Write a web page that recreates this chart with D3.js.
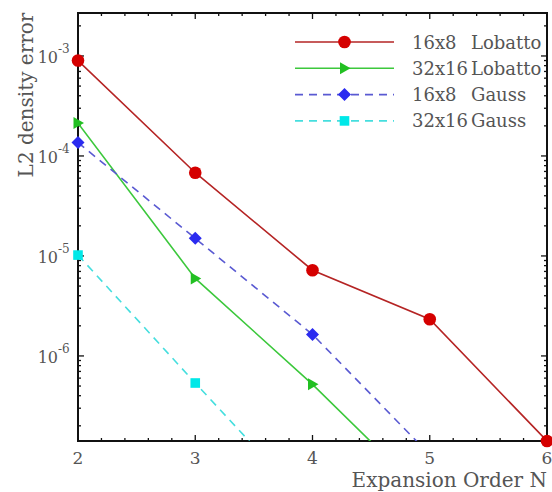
<!DOCTYPE html>
<html>
<head>
<meta charset="utf-8">
<script src="https://cdn.jsdelivr.net/npm/d3@7"></script>
<style>
  html, body { margin: 0; padding: 0; background: #fff; }
  svg { display: block; }
  text { font-family: "DejaVu Serif", "Liberation Serif", serif; fill: #555; }
</style>
</head>
<body>
<svg id="chart" width="552" height="492"></svg>
<script>
// Expansion order on the x axis
const orders = [2, 3, 4, 5, 6];

// L2 density error per resolution / quadrature
const lobatto16x8  = [9.0e-4, 6.8e-5, 7.2e-6, 2.33e-6, 1.41e-7];
const lobatto32x16 = [2.13e-4, 5.96e-6, 5.2e-7, 3.66e-8];
const gauss16x8    = [1.36e-4, 1.5e-5, 1.64e-6, 1.03e-7];
const gauss32x16   = [1.02e-5, 5.36e-7, 2.93e-8];

const seriesNames  = ["16x8", "32x16", "16x8", "32x16"];
const seriesRules  = ["Lobatto", "Lobatto", "Gauss", "Gauss"];

const xTicks = [2, 3, 4, 5, 6];
const yExponents = [-3, -4, -5, -6];

const series = [
  { values: lobatto16x8,  line: "#b52424", fill: "#d50000", dash: null,  shape: "circle" },
  { values: lobatto32x16, line: "#3cc83c", fill: "#22c022", dash: null,  shape: "triangle" },
  { values: gauss16x8,    line: "#5a5ad2", fill: "#2b2bf0", dash: "8,6", shape: "diamond" },
  { values: gauss32x16,   line: "#45dede", fill: "#00e8e8", dash: "8,6", shape: "square" }
].map((s, i) => ({ ...s, name: seriesNames[i], rule: seriesRules[i],
  points: s.values.map((v, j) => ({ x: orders[j], y: v })) }));

const svg = d3.select("#chart");
const margin = { left: 78, right: 5, top: 13, bottom: 51 };
const W = 552, H = 492;

const x = d3.scaleLinear().domain([2, 6]).range([margin.left, W - margin.right]);
const y = d3.scaleLog().domain([1.41e-7, 2.69e-3]).range([H - margin.bottom, margin.top]);

const x0 = x.range()[0], x1 = x.range()[1];
const y0 = y.range()[0], y1 = y.range()[1];

svg.append("defs").append("clipPath").attr("id", "plot-clip")
  .append("rect").attr("x", x0).attr("y", y1).attr("width", x1 - x0).attr("height", y0 - y1);

// Tick values: majors and minors
const xMinor = d3.range(2, 6.0001, 0.2).map(v => +v.toFixed(2)).filter(v => !xTicks.includes(v));
const yAll = y.ticks(); // includes 1..9 x 10^k
const yMajor = yExponents.map(e => Math.pow(10, e));
const yMinor = yAll.filter(v => !yMajor.some(m => Math.abs(m - v) / m < 1e-6));

const axisG = svg.append("g").attr("class", "axes");

// Inward ticks on all four sides
function ticksH(values, len, atY, dir) {
  axisG.selectAll(null).data(values).enter().append("line")
    .attr("x1", d => x(d)).attr("x2", d => x(d))
    .attr("y1", atY).attr("y2", atY + dir * len)
    .attr("stroke", "#111").attr("stroke-width", 1.3);
}
function ticksV(values, len, atX, dir) {
  axisG.selectAll(null).data(values).enter().append("line")
    .attr("y1", d => y(d)).attr("y2", d => y(d))
    .attr("x1", atX).attr("x2", atX + dir * len)
    .attr("stroke", "#111").attr("stroke-width", 1.3);
}
ticksH(xTicks, 6, y0, -1);
ticksH(xMinor, 3, y0, -1);
ticksH(xTicks, 6, y1, 1);
ticksH(xMinor, 3, y1, 1);
ticksV(yMajor, 6, x0, 1);
ticksV(yMinor, 3, x0, 1);
ticksV(yMajor, 6, x1, -1);
ticksV(yMinor, 3, x1, -1);

// Frame
axisG.append("rect")
  .attr("x", x0).attr("y", y1).attr("width", x1 - x0).attr("height", y0 - y1)
  .attr("fill", "none").attr("stroke", "#111").attr("stroke-width", 2);

// X tick labels
svg.append("g").selectAll("text").data(xTicks).enter().append("text")
  .attr("x", d => x(d)).attr("y", y0 + 23)
  .attr("text-anchor", "middle").attr("font-size", 17)
  .text(d => d);

// Y tick labels: 10 with superscript exponent
const yl = svg.append("g").selectAll("g").data(yExponents).enter().append("g");
yl.append("text")
  .attr("x", 58).attr("y", d => y(Math.pow(10, d)) + 7)
  .attr("text-anchor", "end").attr("font-size", 16)
  .text("10");
yl.append("text")
  .attr("x", 58).attr("y", d => y(Math.pow(10, d)) - 3)
  .attr("text-anchor", "start").attr("font-size", 12)
  .text(d => d);

// Axis titles
svg.append("text")
  .attr("x", x1).attr("y", 487)
  .attr("text-anchor", "end").attr("font-size", 20)
  .text("Expansion Order N");
svg.append("text")
  .attr("transform", `translate(33, ${95}) rotate(-90)`)
  .attr("text-anchor", "middle").attr("font-size", 20)
  .text("L2 density error");

// Series lines (clipped to the plot frame)
const line = d3.line().x(d => x(d.x)).y(d => y(d.y));
const linesG = svg.append("g").attr("clip-path", "url(#plot-clip)");
series.forEach(s => {
  linesG.append("path").datum(s.points)
    .attr("d", line)
    .attr("fill", "none").attr("stroke", s.line).attr("stroke-width", 1.6)
    .attr("stroke-dasharray", s.dash);
});

// Marker drawing
function marker(g, shape, cx, cy, color) {
  if (shape === "circle") {
    g.append("circle").attr("cx", cx).attr("cy", cy).attr("r", 6.3).attr("fill", color);
  } else if (shape === "triangle") {
    g.append("path").attr("d", `M${cx - 4.5},${cy - 6} L${cx + 6},${cy} L${cx - 4.5},${cy + 6} Z`).attr("fill", color);
  } else if (shape === "diamond") {
    g.append("path").attr("d", `M${cx},${cy - 6.5} L${cx + 6.5},${cy} L${cx},${cy + 6.5} L${cx - 6.5},${cy} Z`).attr("fill", color);
  } else {
    g.append("rect").attr("x", cx - 4.8).attr("y", cy - 4.8).attr("width", 9.6).attr("height", 9.6).attr("fill", color);
  }
}

const markersG = svg.append("g");
const [yLo, yHi] = y.domain();
series.forEach(s => {
  s.points.filter(p => p.y >= yLo * 0.999 && p.y <= yHi && p.x <= 6)
    .forEach(p => marker(markersG, s.shape, x(p.x), y(p.y), s.fill));
});

// Legend
const legend = svg.append("g");
const legX0 = 295, legX1 = 394, legTop = 42, legStep = 26.3;
series.forEach((s, i) => {
  const ly = legTop + i * legStep;
  legend.append("line")
    .attr("x1", legX0).attr("x2", legX1).attr("y1", ly).attr("y2", ly)
    .attr("stroke", s.line).attr("stroke-width", 1.6)
    .attr("stroke-dasharray", s.dash);
  marker(legend, s.shape, (legX0 + legX1) / 2, ly, s.fill);
  legend.append("text").attr("x", 412).attr("y", ly + 6.5)
    .attr("font-size", 18).text(s.name);
  legend.append("text").attr("x", 471).attr("y", ly + 6.5)
    .attr("font-size", 18).text(s.rule);
});
</script>
</body>
</html>
